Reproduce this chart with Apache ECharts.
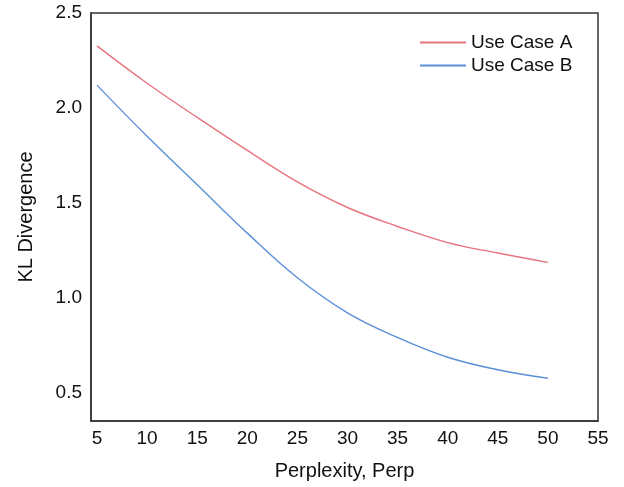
<!DOCTYPE html>
<html><head><meta charset="utf-8">
<script src="https://cdn.jsdelivr.net/npm/echarts@6/dist/echarts.min.js"></script>
<style>html,body{margin:0;padding:0;background:#fff}#c{width:624px;height:487px}</style>
</head><body><div id="c"></div>
<script>
const perp = [5, 10, 15, 20, 25, 30, 35, 40, 45, 50];
const useCaseA = [2.327, 2.13, 1.95, 1.776, 1.61, 1.475, 1.375, 1.29, 1.235, 1.186];
const useCaseB = [2.12, 1.85, 1.595, 1.34, 1.105, 0.92, 0.79, 0.686, 0.62, 0.575];
const xTicks = [5, 10, 15, 20, 25, 30, 35, 40, 45, 50, 55];
const yTicks = [0.5, 1.0, 1.5, 2.0, 2.5];

const chart = echarts.init(document.getElementById('c'), null, {renderer: 'canvas'});
const font = 'Liberation Sans, Arial, sans-serif';
chart.setOption({
  animation: false,
  textStyle: {fontFamily: font},
  grid: {left: 91, top: 13, right: 26, bottom: 66, show: true, borderColor: '#333', borderWidth: 1.5, containLabel: false},
  legend: {
    orient: 'vertical', left: 415, top: 28, itemWidth: 46, itemHeight: 2, itemGap: 4,
    icon: 'rect',
    textStyle: {fontSize: 19, color: '#111', fontFamily: font, padding: [0, 0, 0, 0]},
    data: ['Use Case A', 'Use Case B']
  },
  xAxis: {
    type: 'value', min: 4.4, max: 55,
    name: 'Perplexity, Perp', nameLocation: 'middle', nameGap: 40,
    nameTextStyle: {fontSize: 20, color: '#111', fontFamily: font},
    axisLine: {show: true, lineStyle: {color: '#333', width: 1.5}},
    axisTick: {show: false}, splitLine: {show: false},
    axisLabel: {customValues: xTicks, fontSize: 19, color: '#111', margin: 8, fontFamily: font}
  },
  yAxis: {
    type: 'value', min: 0.35, max: 2.5,
    name: 'KL Divergence', nameLocation: 'middle', nameGap: 55, nameRotate: 90,
    nameTextStyle: {fontSize: 20, color: '#111', fontFamily: font},
    axisLine: {show: true, lineStyle: {color: '#333', width: 1.5}},
    axisTick: {show: false}, splitLine: {show: false},
    axisLabel: {customValues: yTicks, fontSize: 19, color: '#111', margin: 9, fontFamily: font,
      formatter: v => v.toFixed(1)}
  },
  series: [
    {name: 'Use Case A', type: 'line', smooth: 0.4, showSymbol: false,
     data: perp.map((p, i) => [p, useCaseA[i]]),
     lineStyle: {color: '#e8737e', width: 1.4}, itemStyle: {color: '#e8737e'}},
    {name: 'Use Case B', type: 'line', smooth: 0.4, showSymbol: false,
     data: perp.map((p, i) => [p, useCaseB[i]]),
     lineStyle: {color: '#5b8fd8', width: 1.4}, itemStyle: {color: '#5b8fd8'}}
  ]
});
</script></body></html>
